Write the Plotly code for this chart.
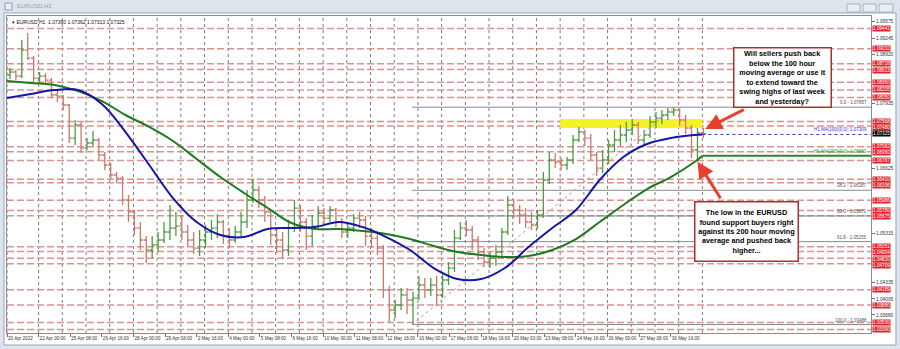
import plotly.graph_objects as go

# ---------------- data ----------------
symbol = "EURUSD,H1"
bucket_hours = 6                      # each drawn bar aggregates 6 H1 bars
first_open = 1.08504
closes = [1.08564, 1.08483, 1.09006, 1.08845, 1.08443, 1.08483, 1.08403, 1.08102, 1.08081, 1.07901,
          1.07237, 1.07499, 1.07036, 1.07137, 1.07197, 1.06896, 1.06695, 1.06494, 1.06433, 1.05991,
          1.05750, 1.05428, 1.05187, 1.04986, 1.05087, 1.05187, 1.05348, 1.05428, 1.05468, 1.05348,
          1.05187, 1.05026, 1.05187, 1.05348, 1.05428, 1.05549, 1.05267, 1.05187, 1.05348, 1.05549,
          1.05991, 1.06192, 1.05991, 1.05750, 1.05288, 1.05187, 1.04986, 1.05428, 1.05830, 1.05549,
          1.05267, 1.05468, 1.05730, 1.05629, 1.05790, 1.05549, 1.05348, 1.05428, 1.05629, 1.05589,
          1.05267, 1.05227, 1.05026, 1.04182, 1.03780, 1.03881, 1.04082, 1.03981, 1.04021, 1.04283,
          1.04182, 1.04283, 1.04082, 1.04383, 1.04624, 1.05227, 1.05428, 1.05388, 1.05187, 1.04946,
          1.04745, 1.04825, 1.04946, 1.05348, 1.05891, 1.05790, 1.05690, 1.05549, 1.05489, 1.05690,
          1.06393, 1.06795, 1.06755, 1.06695, 1.06795, 1.07197, 1.07358, 1.07237, 1.06896, 1.06634,
          1.06795, 1.07097, 1.07197, 1.07298, 1.07398, 1.07499, 1.07197, 1.07298, 1.07559, 1.07639,
          1.07700, 1.07760, 1.07800, 1.07599, 1.07438, 1.06996, 1.07338, 1.07325]
highs = [1.08644, 1.08604, 1.09207, 1.09348, 1.08885, 1.08564, 1.08544, 1.08443, 1.08202, 1.08102,
         1.07921, 1.07599, 1.07559, 1.07237, 1.07378, 1.07237, 1.06956, 1.06735, 1.06554, 1.06473,
         1.06092, 1.05790, 1.05549, 1.05267, 1.05267, 1.05348, 1.05549, 1.05891, 1.05750, 1.05690,
         1.05489, 1.05348, 1.05388, 1.05489, 1.05589, 1.05710, 1.05589, 1.05428, 1.05468, 1.05750,
         1.06192, 1.06413, 1.06272, 1.06071, 1.05790, 1.05428, 1.05348, 1.05589, 1.05991, 1.05891,
         1.05629, 1.05690, 1.05870, 1.05830, 1.05870, 1.05830, 1.05629, 1.05549, 1.05710, 1.05750,
         1.05669, 1.05428, 1.05308, 1.05087, 1.04262, 1.03981, 1.04222, 1.04222, 1.04142, 1.04463,
         1.04423, 1.04423, 1.04463, 1.04544, 1.04745, 1.05388, 1.05549, 1.05589, 1.05468, 1.05267,
         1.05026, 1.04946, 1.05087, 1.05428, 1.06071, 1.06011, 1.05891, 1.05830, 1.05750, 1.05790,
         1.06554, 1.06956, 1.06936, 1.06835, 1.06855, 1.07298, 1.07458, 1.07398, 1.07318, 1.06956,
         1.06996, 1.07197, 1.07398, 1.07499, 1.07559, 1.07619, 1.07559, 1.07398, 1.07679, 1.07760,
         1.07800, 1.07840, 1.07857, 1.07830, 1.07700, 1.07499, 1.07438, 1.07438]
lows = [1.08423, 1.08403, 1.08443, 1.08805, 1.08363, 1.08363, 1.08343, 1.08041, 1.07961, 1.07800,
        1.07137, 1.07097, 1.06936, 1.06996, 1.07076, 1.06795, 1.06594, 1.06413, 1.06333, 1.05891,
        1.05549, 1.05288, 1.04986, 1.04725, 1.04825, 1.04946, 1.05127, 1.05187, 1.05267, 1.05187,
        1.05066, 1.04906, 1.04865, 1.05026, 1.05187, 1.05227, 1.05107, 1.05026, 1.05127, 1.05267,
        1.05428, 1.05931, 1.05830, 1.05549, 1.05087, 1.04926, 1.04805, 1.04865, 1.05348, 1.05348,
        1.04986, 1.05066, 1.05428, 1.05489, 1.05549, 1.05448, 1.05227, 1.05227, 1.05348, 1.05428,
        1.05066, 1.05026, 1.04886, 1.04021, 1.03539, 1.03619, 1.03780, 1.03700, 1.03488, 1.03981,
        1.04021, 1.04061, 1.03860, 1.04021, 1.04283, 1.04544, 1.05187, 1.05267, 1.04986, 1.04785,
        1.04644, 1.04624, 1.04664, 1.04865, 1.05288, 1.05629, 1.05509, 1.05428, 1.05388, 1.05408,
        1.05629, 1.06313, 1.06634, 1.06594, 1.06594, 1.06715, 1.07157, 1.07076, 1.06795, 1.06473,
        1.06534, 1.06715, 1.06956, 1.07076, 1.07157, 1.07298, 1.07116, 1.07076, 1.07237, 1.07438,
        1.07519, 1.07599, 1.07679, 1.07478, 1.07318, 1.06835, 1.06760, 1.07237]

ma_bars = list(range(0, 697, 24)) + [704]
ma100 = [1.08041, 1.08122, 1.08202, 1.08202, 1.07921, 1.07358, 1.06695, 1.06031, 1.05549, 1.05288,
         1.05247, 1.05408, 1.05428, 1.05448, 1.05549, 1.05448, 1.05247, 1.04986, 1.04624, 1.04403,
         1.04403, 1.04624, 1.05046, 1.05428, 1.05790, 1.06393, 1.06855, 1.07117, 1.07237, 1.07298, 1.07309]
ma200 = [1.08383, 1.08343, 1.08303, 1.08182, 1.07981, 1.07700, 1.07459, 1.07177, 1.06815, 1.06453,
         1.06132, 1.05830, 1.05529, 1.05408, 1.05408, 1.05368, 1.05308, 1.05207, 1.05067, 1.04946,
         1.04886, 1.04845, 1.04865, 1.04986, 1.05207, 1.05549, 1.05891, 1.06212, 1.06453, 1.06755, 1.06883]

date_ticks = list(range(0, 673, 32))
date_labels = ["20 Apr 2022", "22 Apr 00:00", "25 Apr 08:00", "26 Apr 16:00", "28 Apr 00:00",
               "29 Apr 08:00", "2 May 16:00", "4 May 00:00", "5 May 08:00", "6 May 16:00",
               "10 May 00:00", "11 May 08:00", "12 May 16:00", "16 May 00:00", "17 May 08:00",
               "18 May 16:00", "20 May 00:00", "23 May 08:00", "24 May 16:00", "26 May 00:00",
               "27 May 08:00", "30 May 16:00"]
grid_bars = [0] + list(range(32, 705, 24))

price_ticks = [1.09575, 1.09245, 1.08920, 1.07935, 1.06625, 1.05315, 1.04335, 1.04005, 1.03680]

red_levels = [1.09441, 1.09032, 1.08728, 1.08613, 1.08360, 1.08205, 1.08050, 1.07568, 1.07480,
              1.07062, 1.06960, 1.06787, 1.06410, 1.06336, 1.05986, 1.05780, 1.05675, 1.05051,
              1.04954, 1.04820, 1.04709, 1.04189, 1.03880, 1.03530, 1.03390]
last_price = 1.07325
ohlc_last = ["1.07360", "1.07362", "1.07313", "1.07325"]

fib_names = ["0.0", "38.2", "50.0", "61.8", "100.0"]
fib_prices = [1.07857, 1.06187, 1.05671, 1.05155, 1.03488]
fib_low_bar, fib_high_bar = 410, 676

zone_low, zone_high = 1.07439, 1.07619
zone_start_bar, last_bar = 560, 704
ma100_last, ma200_last = 1.07309, 1.06883

note_top = ("Will sellers push back<br>below the 100 hour<br>moving average or use it<br>"
            "to extend toward the<br>swing highs of last week<br>and yesterday?")
note_bottom = ("The low in the EURUSD<br>found support buyers right<br>against its 200 hour moving<br>"
               "average and pushed back<br>higher...")

# ---------------- styling ----------------
X_MAX = 874.7
Y_MIN, Y_MAX = 1.03318, 1.09690
UP, DN = "#4f9a45", "#c97a6c"
FONT = "Liberation Sans"
W, H = 900, 349
ML, MR, MT, MB = 6, 28, 16, 16
PW, PH = W - ML - MR, H - MT - MB
PX_PER_PRICE = PH / (Y_MAX - Y_MIN)

def px(x):   # pixel -> paper x
    return (x - ML) / PW

def py(y):   # pixel -> paper y
    return (H - MB - y) / PH

opens = [first_open] + closes[:-1]
bucket_mid = [bucket_hours * k + bucket_hours / 2 for k in range(len(closes))]

fig = go.Figure()
fig.add_trace(go.Ohlc(
    x=bucket_mid, open=opens, high=highs, low=lows, close=closes, tickwidth=0.45,
    increasing=dict(line=dict(color=UP, width=1.3)),
    decreasing=dict(line=dict(color=DN, width=1.3)),
    hoverinfo="skip", showlegend=False))
fig.add_trace(go.Scatter(x=[fib_low_bar, fib_high_bar], y=[fib_prices[-1], fib_prices[0]],
                         mode="lines", line=dict(color="#c89a9a", width=1, dash="dot"),
                         hoverinfo="skip", showlegend=False))
fig.add_trace(go.Scatter(x=ma_bars, y=ma200, mode="lines",
                         line=dict(color="#1e7a1e", width=2, shape="spline"),
                         hoverinfo="skip", showlegend=False))
fig.add_trace(go.Scatter(x=ma_bars, y=ma100, mode="lines",
                         line=dict(color="#1616a6", width=2, shape="spline"),
                         hoverinfo="skip", showlegend=False))

shapes = []
# white client area of the terminal window
shapes.append(dict(type="rect", xref="paper", yref="paper", x0=px(3), x1=px(897), y0=py(345), y1=py(13),
                   fillcolor="white", line=dict(color="#9aa6b4", width=1), layer="below"))
# vertical dotted grid
for g in grid_bars:
    shapes.append(dict(type="line", xref="x", yref="paper", x0=g, x1=g, y0=0, y1=1,
                       line=dict(color="#7d7d7d", width=1, dash="dot"), layer="below"))
# yellow resistance zone
shapes.append(dict(type="rect", xref="x", yref="y", x0=zone_start_bar, x1=last_bar, y0=zone_low, y1=zone_high,
                   fillcolor="#f4f21c", line=dict(width=0), opacity=0.95, layer="below"))
# red dashed support / resistance lines
for lv in red_levels:
    shapes.append(dict(type="line", xref="paper", yref="y", x0=0, x1=1, y0=lv, y1=lv,
                       line=dict(color="#d99494", width=1.5, dash="7px,3px"), layer="below"))
# fibonacci levels
for fp in fib_prices:
    shapes.append(dict(type="line", xref="x", yref="y", x0=fib_low_bar, x1=X_MAX, y0=fp, y1=fp,
                       line=dict(color="#8a8a8a", width=1), layer="below"))
# MA level extensions
shapes.append(dict(type="line", xref="x", yref="y", x0=last_bar, x1=X_MAX, y0=ma100_last, y1=ma100_last,
                   line=dict(color="#3434c4", width=1, dash="dot")))
shapes.append(dict(type="line", xref="x", yref="y", x0=last_bar, x1=X_MAX, y0=ma200_last, y1=ma200_last,
                   line=dict(color="#2a8a2a", width=2)))
# window chrome: icon + buttons
shapes.append(dict(type="rect", xref="paper", yref="paper", x0=px(4), x1=px(11), y0=py(10), y1=py(3),
                   fillcolor="#e8eef5", line=dict(color="#8ea0b6", width=1)))
for bx0, bx1 in [(848, 861), (864, 877), (880, 894)]:
    shapes.append(dict(type="rect", xref="paper", yref="paper", x0=px(bx0), x1=px(bx1), y0=py(12), y1=py(4),
                       fillcolor="#e9eef4", line=dict(color="#a7b2bf", width=1)))

# price labels on the right axis; labels closer than LABEL_H px are nudged apart
LABEL_H = 6.2
label_items = [(lv, "#e3232b") for lv in red_levels] + [(last_price, "#000000")]
label_items.sort(key=lambda t: -t[0])
shifts = [0.0] * len(label_items)
for i in range(1, len(label_items)):
    gap = (label_items[i - 1][0] - label_items[i][0]) * PX_PER_PRICE
    prev_pos = -shifts[i - 1]
    need = LABEL_H - (gap - prev_pos)
    shifts[i] = -max(0.0, need) if need > 0 else 0.0
ann = []
for (lv, col), sh in zip(label_items, shifts):
    ann.append(dict(xref="paper", yref="y", x=1, y=lv, xanchor="left", yanchor="middle", xshift=1, yshift=sh,
                    text=f"{lv:.5f}", showarrow=False, bgcolor=col, borderpad=0,
                    font=dict(family=FONT, size=4.7, color="white")))
# fibonacci labels
for name, fp in zip(fib_names, fib_prices):
    ann.append(dict(xref="paper", yref="y", x=1, y=fp, xanchor="right", yanchor="bottom", xshift=-2,
                    text=f"{name} - {fp:.5f}", showarrow=False,
                    font=dict(family=FONT, size=4.5, color="#505050")))
ann.append(dict(xref="paper", yref="y", x=1, y=ma100_last, xanchor="right", yanchor="bottom", xshift=-2,
                text=f"H1 MA(100)(0,0): {ma100_last:.5f}", showarrow=False,
                font=dict(family=FONT, size=4.5, color="#3434c4")))
ann.append(dict(xref="paper", yref="y", x=1, y=ma200_last, xanchor="right", yanchor="bottom", xshift=-2,
                text=f"H1 MA(200)(0,0): {ma200_last:.5f}", showarrow=False,
                font=dict(family=FONT, size=4.5, color="#2a8a2a")))
# chart info line and window title
ann.append(dict(xref="paper", yref="paper", x=px(9), y=py(22), xanchor="left", yanchor="middle",
                text="▾ " + symbol + "  " + " ".join(ohlc_last), showarrow=False,
                font=dict(family=FONT, size=5, color="#111111")))
ann.append(dict(xref="paper", yref="paper", x=px(14), y=py(6.5), xanchor="left", yanchor="middle",
                text=symbol, showarrow=False, font=dict(family=FONT, size=6, color="#a0a0a0")))
# commentary boxes
ann.append(dict(xref="paper", yref="paper", x=px(783), y=py(77.5), xanchor="center", yanchor="middle",
                text="<b>" + note_top + "</b>", showarrow=False, align="center",
                width=94, height=56, bgcolor="white", bordercolor="#a83232", borderwidth=1.5, borderpad=1,
                font=dict(family=FONT, size=7.3, color="#000000")))
ann.append(dict(xref="paper", yref="paper", x=px(747), y=py(231), xanchor="center", yanchor="middle",
                text="<b>" + note_bottom + "</b>", showarrow=False, align="center",
                width=100, height=56, bgcolor="white", bordercolor="#a83232", borderwidth=1.5, borderpad=1,
                font=dict(family=FONT, size=7.3, color="#000000")))
# arrows
ann.append(dict(xref="x", yref="y", x=707, y=1.07420, ax=40, ay=-20, text="", showarrow=True,
                arrowhead=2, arrowsize=1.1, arrowwidth=3, arrowcolor="#e8402c"))
ann.append(dict(xref="x", yref="y", x=699, y=1.06760, ax=24, ay=38, text="", showarrow=True,
                arrowhead=2, arrowsize=1.1, arrowwidth=3, arrowcolor="#e8402c"))

fig.update_layout(
    width=W, height=H, margin=dict(l=ML, r=MR, t=MT, b=MB),
    paper_bgcolor="#dce4ed", plot_bgcolor="white", showlegend=False,
    shapes=shapes, annotations=ann,
    xaxis=dict(range=[0, X_MAX], tickmode="array", tickvals=date_ticks, ticktext=date_labels,
               tickangle=0, ticklabelposition="outside right", ticks="outside", ticklen=3,
               tickcolor="#707070", showgrid=False, zeroline=False, showline=True,
               linecolor="#8c8c8c", mirror=True,
               tickfont=dict(family=FONT, size=4.6, color="#333333"), rangeslider=dict(visible=False)),
    yaxis=dict(range=[Y_MIN, Y_MAX], side="right", tickmode="array", tickvals=price_ticks,
               ticktext=[f"{v:.5f}" for v in price_ticks], ticks="outside", ticklen=3, tickcolor="#707070",
               showgrid=False, zeroline=False, showline=True, linecolor="#8c8c8c", mirror=True,
               tickfont=dict(family=FONT, size=4.8, color="#333333")),
)

fig.write_html("out.html")
